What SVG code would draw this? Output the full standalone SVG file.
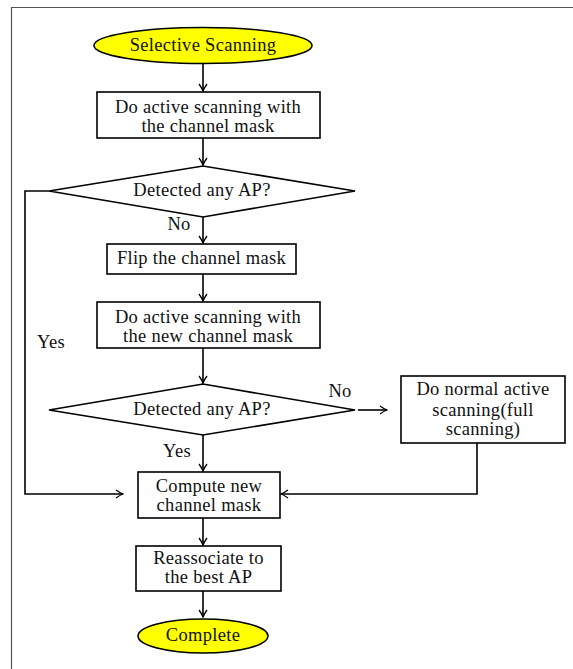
<svg xmlns="http://www.w3.org/2000/svg" width="573" height="669" viewBox="0 0 573 669">
<style>
text{font-family:"Liberation Serif","Times New Roman",serif;font-size:18.5px;letter-spacing:0.3px;fill:#111;text-anchor:middle}
.n{fill:#fff;stroke:#000;stroke-width:1.6}
.t{fill:#ffff00;stroke:#000;stroke-width:1.6}
.c{fill:none;stroke:#000;stroke-width:1.6}
</style>
<defs>
<marker id="ah" viewBox="-8 -5 9 10" refX="0" refY="0" markerWidth="9" markerHeight="10" markerUnits="userSpaceOnUse" orient="auto">
<path d="M-7,-4 Q-2.5,-0.8 0,0 Q-2.5,0.8 -7,4" fill="none" stroke="#000" stroke-width="1.3"/>
</marker>
</defs>
<rect width="573" height="669" fill="#fff"/>
<path d="M11.5,669 V7.5 H573" fill="none" stroke="#555" stroke-width="1.2"/>
<g id="connectors">
<path class="c" d="M203,64 V91" marker-end="url(#ah)"/>
<path class="c" d="M203,138 V165" marker-end="url(#ah)"/>
<path class="c" d="M203,217 V243" marker-end="url(#ah)"/>
<path class="c" d="M203,274 V301" marker-end="url(#ah)"/>
<path class="c" d="M203,348 V383" marker-end="url(#ah)"/>
<path class="c" d="M358,410 H387" marker-end="url(#ah)"/>
<path class="c" d="M203,435 V471" marker-end="url(#ah)"/>
<path class="c" d="M49,191 H25 V494 H123" marker-end="url(#ah)"/>
<path class="c" d="M477,443 V494 H281" marker-end="url(#ah)"/>
<path class="c" d="M203,518 V545" marker-end="url(#ah)"/>
<path class="c" d="M203,591 V617" marker-end="url(#ah)"/>
<text x="179" y="230">No</text>
<text x="51" y="348">Yes</text>
<text x="340" y="397">No</text>
<text x="177" y="457">Yes</text>
</g>
<g id="start">
<ellipse class="t" cx="203" cy="45.5" rx="109" ry="18"/>
<text x="203" y="51">Selective Scanning</text>
</g>
<g id="scan1">
<rect class="n" x="97" y="92" width="223" height="46"/>
<text x="208" y="113">Do active scanning with</text>
<text x="208" y="132">the channel mask</text>
</g>
<g id="detect1">
<polygon class="n" points="49,191 203,166 355,191 203,217"/>
<text x="202" y="196">Detected any AP?</text>
</g>
<g id="flip">
<rect class="n" x="107" y="244" width="189" height="30"/>
<text x="201.5" y="264">Flip the channel mask</text>
</g>
<g id="scan2">
<rect class="n" x="97" y="302" width="223" height="46"/>
<text x="208" y="323">Do active scanning with</text>
<text x="208" y="342">the new channel mask</text>
</g>
<g id="detect2">
<polygon class="n" points="49,410 203,384 355,410 203,435"/>
<text x="202" y="415">Detected any AP?</text>
</g>
<g id="normal">
<rect class="n" x="401" y="376" width="164" height="67"/>
<text x="483" y="395">Do normal active</text>
<text x="483" y="416">scanning(full</text>
<text x="483" y="435">scanning)</text>
</g>
<g id="compute">
<rect class="n" x="138" y="472" width="142" height="46"/>
<text x="209" y="492">Compute new</text>
<text x="209" y="511">channel mask</text>
</g>
<g id="reassoc">
<rect class="n" x="136" y="546" width="145" height="45"/>
<text x="208.5" y="564">Reassociate to</text>
<text x="208.5" y="583">the best AP</text>
</g>
<g id="complete">
<ellipse class="t" cx="203" cy="636" rx="65" ry="17"/>
<text x="203" y="641">Complete</text>
</g>
</svg>
